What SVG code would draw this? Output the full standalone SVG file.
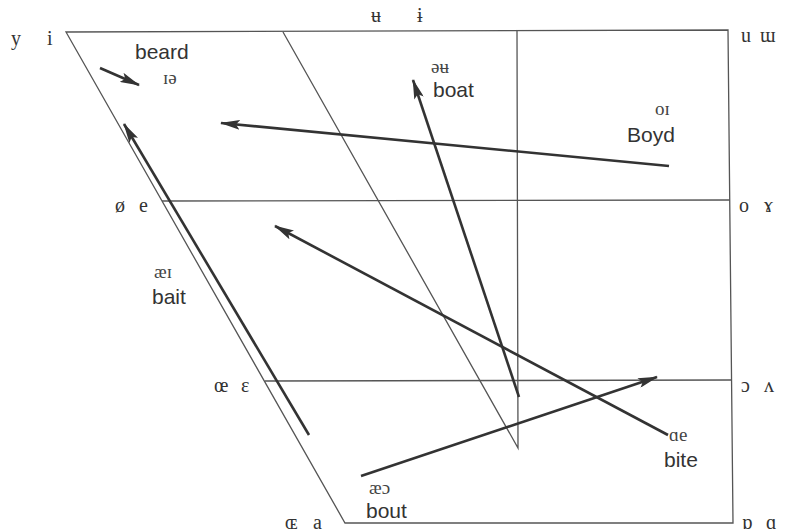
<svg xmlns="http://www.w3.org/2000/svg" width="786" height="532" viewBox="0 0 786 532">
<defs>
<style>
.grid{fill:none;stroke:#555;stroke-width:1.3}
.arr{fill:none;stroke:#333;stroke-width:2.6;marker-end:url(#ah)}
.ipa{font-family:"Liberation Serif","DejaVu Serif",serif;font-size:20px;fill:#333}
.ipas{font-family:"Liberation Serif","DejaVu Serif",serif;font-size:19px;fill:#444}
.word{font-family:"Liberation Sans",Arial,sans-serif;font-size:21px;fill:#333}
</style>
<marker id="ah" viewBox="0 0 20 10" refX="19" refY="5" markerWidth="20" markerHeight="10" markerUnits="userSpaceOnUse" orient="auto">
<path d="M0,0 L20,5 L0,10 L4,5 Z" fill="#333"/>
</marker>
</defs>
<rect width="786" height="532" fill="#fff"/>
<g id="chart">
<path class="grid" d="M66,32 L728,30 L733,523 L345,523 Z"/>
<line class="grid" x1="162" y1="201" x2="730" y2="200"/>
<line class="grid" x1="265" y1="381" x2="732" y2="380"/>
<polyline class="grid" points="283,32 518,448 517,31"/>
</g>
<g id="vowel-labels">
<text class="ipa" x="11" y="45">y</text>
<text class="ipa" x="47" y="45">i</text>
<text class="ipa" x="371" y="22">ʉ</text>
<text class="ipa" x="417" y="22">ɨ</text>
<text class="ipa" x="741" y="42">u</text>
<text class="ipa" x="760" y="42">ɯ</text>
<text class="ipa" x="115" y="212">ø</text>
<text class="ipa" x="139" y="212">e</text>
<text class="ipa" x="739" y="212">o</text>
<text class="ipa" x="764" y="212">ɤ</text>
<text class="ipa" x="214" y="392">œ</text>
<text class="ipa" x="241" y="392">ε</text>
<text class="ipa" x="741" y="392">ɔ</text>
<text class="ipa" x="764" y="392">ʌ</text>
<text class="ipa" x="285" y="529">ɶ</text>
<text class="ipa" x="313" y="529">a</text>
<text class="ipa" x="742" y="529">ɒ</text>
<text class="ipa" x="766" y="529">ɑ</text>
</g>
<g id="connectors">
<line class="arr" x1="100" y1="68" x2="139" y2="85"/>
<line class="arr" x1="669" y1="166" x2="221" y2="123"/>
<line class="arr" x1="519" y1="397" x2="413" y2="80"/>
<line class="arr" x1="309" y1="435" x2="124" y2="124"/>
<line class="arr" x1="668" y1="435" x2="275" y2="226"/>
<line class="arr" x1="361" y1="476" x2="657" y2="377"/>
</g>
<g id="beard">
<text class="word" x="135" y="59">beard</text>
<text class="ipas" x="163" y="84">ɪə</text>
</g>
<g id="boat">
<text class="ipas" x="431" y="73">əʉ</text>
<text class="word" x="433" y="97">boat</text>
</g>
<g id="boyd">
<text class="ipas" x="655" y="115">oɪ</text>
<text class="word" x="627" y="142">Boyd</text>
</g>
<g id="bait">
<text class="ipas" x="154" y="278">æɪ</text>
<text class="word" x="152" y="304">bait</text>
</g>
<g id="bite">
<text class="ipas" x="669" y="441">ɑe</text>
<text class="word" x="664" y="467">bite</text>
</g>
<g id="bout">
<text class="ipas" x="369" y="494">æɔ</text>
<text class="word" x="366" y="518">bout</text>
</g>
</svg>
